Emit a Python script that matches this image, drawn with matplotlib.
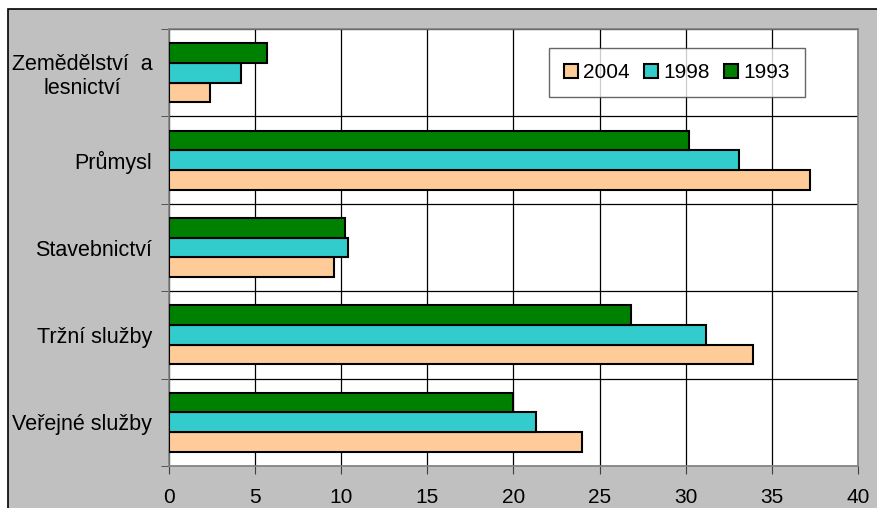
import matplotlib
matplotlib.use('Agg')

import matplotlib.pyplot as plt
from matplotlib.patches import Rectangle
import numpy as np

categories = ['Zemědělství  a\nlesnictví', 'Průmysl', 'Stavebnictví',
              'Tržní služby', 'Veřejné služby']
years = ['2004', '1998', '1993']
v2004 = [2.4, 37.2, 9.6, 33.9, 24.0]
v1998 = [4.2, 33.1, 10.4, 31.2, 21.3]
v1993 = [5.7, 30.2, 10.2, 26.8, 20.0]
colors = {'2004': '#FFCC99', '1998': '#33CCCC', '1993': '#008000'}

plt.rcParams['font.family'] = ['Liberation Sans', 'DejaVu Sans']

fig = plt.figure(figsize=(8.78, 5.08), dpi=100)
W, H = 878, 508

# grey chart area with black border on top/left
fig.add_artist(Rectangle((8 / W, -0.01), 1, 1.01 - 9 / H, transform=fig.transFigure,
                         facecolor='#C0C0C0', edgecolor='black', lw=1.2,
                         zorder=-10))

ax = fig.add_axes([169 / W, 42 / H, (858 - 169) / W, (466 - 29) / H])
ax.set_facecolor('white')

y = np.arange(len(categories))
h = 0.225
kw = dict(height=h, edgecolor='black', linewidth=1.5, zorder=3)
ax.barh(y + h, v2004, color=colors['2004'], label='2004', **kw)
ax.barh(y, v1998, color=colors['1998'], label='1998', **kw)
ax.barh(y - h, v1993, color=colors['1993'], label='1993', **kw)

ax.set_xlim(0, 40)
ax.set_ylim(len(categories) - 0.5, -0.5)
ax.set_xticks(range(0, 41, 5))
ax.set_yticks(y)
ax.set_yticklabels(categories, multialignment='center')
ax.set_yticks(np.arange(-0.5, len(categories), 1), minor=True)

ax.grid(axis='x', color='black', lw=0.9, zorder=1)
ax.grid(axis='y', which='minor', color='black', lw=0.9, zorder=1)
ax.tick_params(axis='y', which='major', length=0, pad=12, labelsize=15.5)
ax.tick_params(axis='y', which='minor', length=6, color='#404040')
ax.tick_params(axis='x', length=6, pad=10, labelsize=15, color='#404040')
for s in ax.spines.values():
    s.set_color('#808080')
    s.set_linewidth(1.2)
ax.set_axisbelow(True)

leg = ax.legend(ncol=3, loc='upper left', bbox_to_anchor=((549 - 169) / (858 - 169), 1 - (48 - 29) / (466 - 29)),
                fontsize=15, frameon=True, fancybox=False, edgecolor='#404040',
                handlelength=0.67, handleheight=0.67, handletextpad=0.24,
                columnspacing=0.7, borderpad=0.72, borderaxespad=0)
leg.get_frame().set_linewidth(1.0)

fig.savefig('out.png', dpi=100)
